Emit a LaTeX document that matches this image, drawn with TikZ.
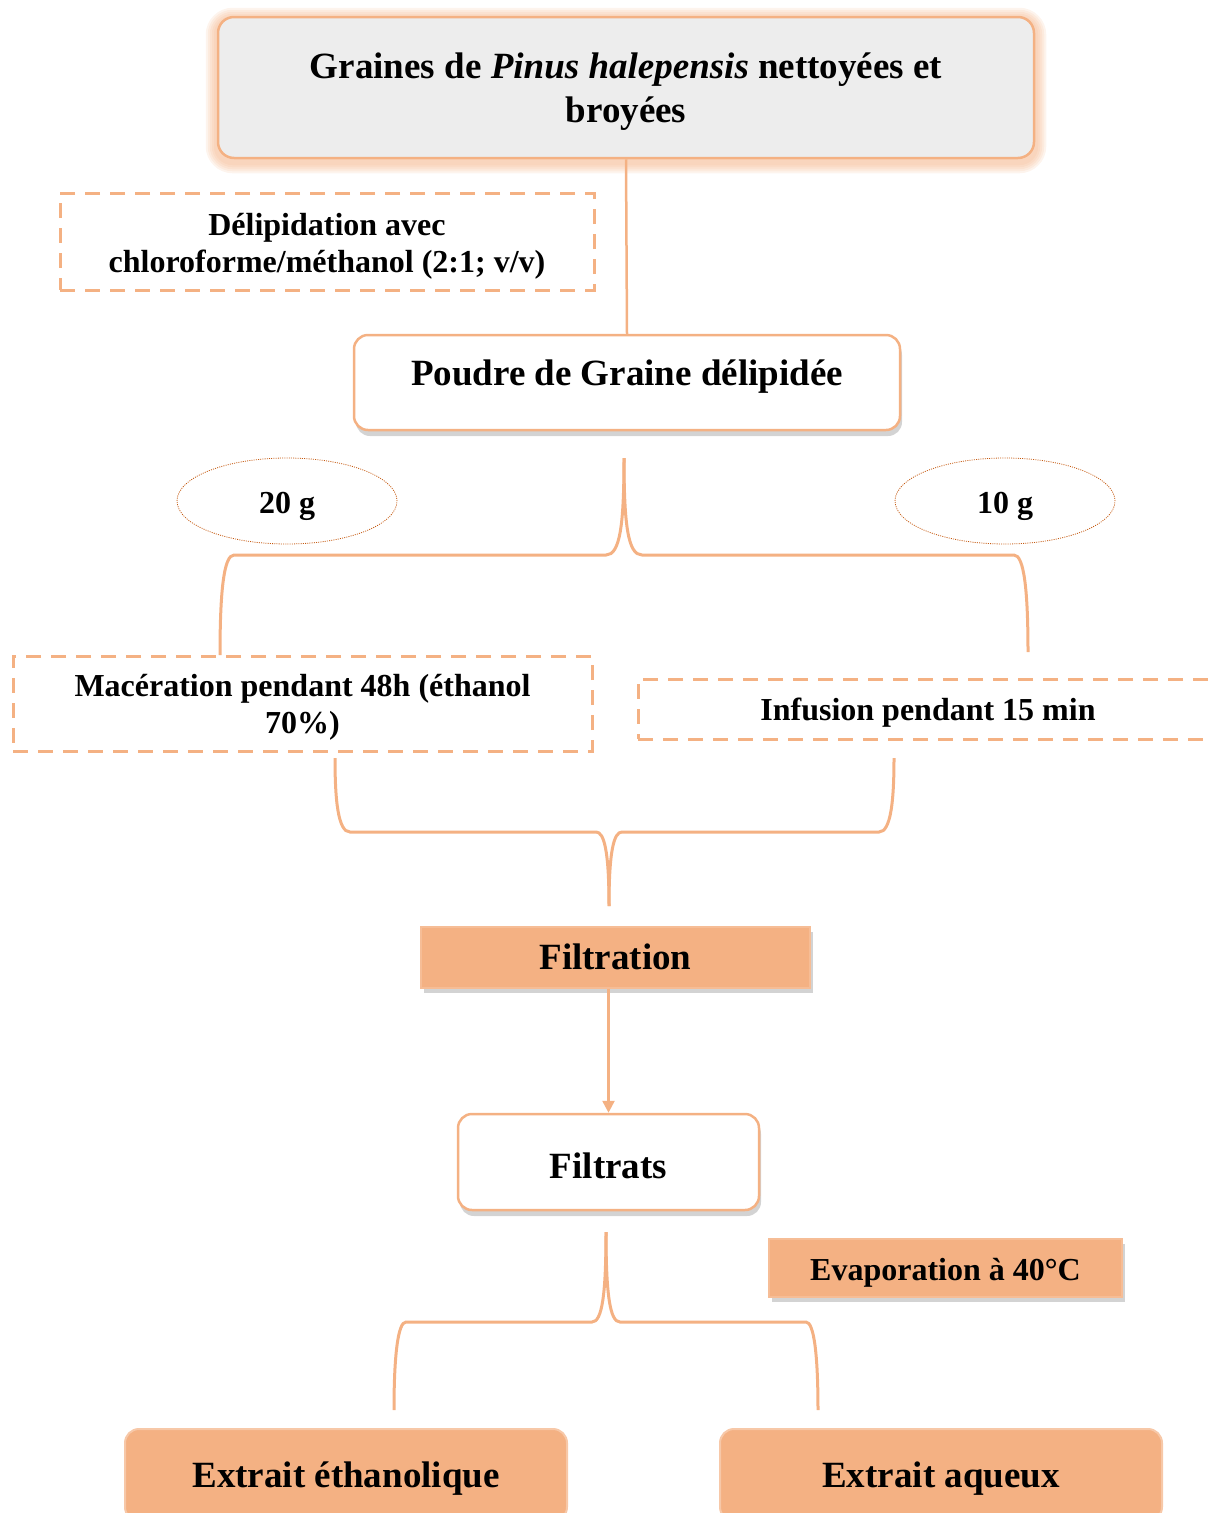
\documentclass[tikz,border=0pt]{standalone}
\usepackage{fontspec}
\setmainfont{Liberation Serif}
\usetikzlibrary{shapes.geometric,shadows,arrows.meta,backgrounds}

\definecolor{peach}{HTML}{F4B183}
\definecolor{rust}{HTML}{C55A11}
\definecolor{boxgray}{HTML}{EDEDED}

\tikzset{
  big/.style={font=\bfseries\fontsize{37}{44}\selectfont},
  small/.style={font=\bfseries\fontsize{32}{37}\selectfont},
  roundbox/.style={draw=peach, line width=2.5pt, rounded corners=14pt, fill=white,
    drop shadow={shadow xshift=2pt, shadow yshift=-6pt, opacity=.35}},
  dashbox/.style={draw=peach, line width=3pt, dash pattern=on 15pt off 10pt},
  filledbox/.style={draw=peach!85, line width=1.5pt, fill=peach,
    drop shadow={shadow xshift=3pt, shadow yshift=-5pt, opacity=.35}},
  extractbox/.style={draw=peach!70, line width=2pt, fill=peach, rounded corners=14pt},
  weight/.style={ellipse, draw=rust, line width=0.8pt, dash pattern=on 1pt off 1.2pt,
    minimum width=220pt, minimum height=86pt, text height=27pt, text depth=3pt},
  brace/.style={draw=peach, line width=3pt},
}

\begin{document}
\begin{tikzpicture}[x=1pt, y=-1pt]
  \useasboundingbox (0,0) rectangle (1212,1513);

  % boxes
  \node[draw=peach, line width=2.5pt, rounded corners=16pt, fill=boxgray, big, align=center,
    minimum width=816pt, minimum height=141pt, text height=77pt, text depth=8pt] (seeds) at (626,87.5)
    {Graines de \textit{Pinus halepensis} nettoyées et\\broyées};
  \begin{scope}[on background layer]
    \foreach \w in {6,10,14,18,22}
      \draw[peach, line width=\w pt, opacity=0.14, rounded corners=16pt]
        ([yshift=-3pt]seeds.south west) rectangle ([yshift=-3pt]seeds.north east);
  \end{scope}

  \node[dashbox, small, align=center, minimum width=534pt, minimum height=97pt,
    text height=69pt, text depth=8pt] (delip) at (327,241.5)
    {Délipidation avec\\chloroforme/méthanol (2:1; v/v)};

  \node[roundbox, big, minimum width=546pt, minimum height=95pt,
    text height=25pt, text depth=20pt] (powder) at (627,382.5) {Poudre de Graine délipidée};

  \node[weight, small] (w20) at (287,501) {20 g};
  \node[weight, small] (w10) at (1005,501) {10 g};

  \node[dashbox, small, align=center, minimum width=579pt, minimum height=95pt,
    text height=67pt, text depth=8pt] (macer) at (302.5,703.5)
    {Macération pendant 48h (éthanol\\70\%)};
  \node[dashbox, small, minimum width=580pt, minimum height=60pt,
    text height=28pt, text depth=6pt] (infus) at (928,709)
    {Infusion pendant 15 min};

  \node[filledbox, big, minimum width=389pt, minimum height=61pt,
    text height=26pt, text depth=3pt] (filtration) at (615.5,957.5) {Filtration};
  \node[roundbox, big, minimum width=301pt, minimum height=96pt,
    text height=33pt, text depth=1pt] (filtrats) at (608.5,1162) {Filtrats};
  \node[filledbox, small, minimum width=353pt, minimum height=58pt,
    text height=28pt, text depth=4pt] (evap) at (945.5,1268) {Evaporation à 40°C};

  \node[extractbox, big, minimum width=442pt, minimum height=92pt,
    text height=30pt, text depth=6pt] (ethanolic) at (346,1475) {Extrait éthanolique};
  \node[extractbox, big, minimum width=442pt, minimum height=92pt,
    text height=30pt, text depth=6pt] (aqueous) at (941,1475) {Extrait aqueux};

  % brace ends
  \coordinate (split1) at (624,458);
  \coordinate (macin) at (220,655);
  \coordinate (infin) at (1028,652);
  \coordinate (macout) at (335,758);
  \coordinate (infout) at (894,758);
  \coordinate (join2) at (609,906);
  \coordinate (split3) at (606,1232);
  \coordinate (ethin) at (394,1410);
  \coordinate (aqin) at (818,1410);

  % connectors
  \draw[peach, line width=2.5pt] (seeds.south) -- (powder.north);

  \draw[brace] (split1) .. controls (624,525) and (620,555) .. (606,555) -- (234,555)
    .. controls (224,555) and (220,590) .. (macin);
  \draw[brace] (split1) .. controls (624,525) and (628,555) .. (642,555) -- (1014,555)
    .. controls (1024,555) and (1028,590) .. (infin);

  \draw[brace] (macout) .. controls (335,800) and (338,832) .. (350,832) -- (596,832)
    .. controls (604,832) and (609,850) .. (join2);
  \draw[brace] (infout) .. controls (894,800) and (891,832) .. (879,832) -- (622,832)
    .. controls (614,832) and (609,850) .. (join2);

  \draw[peach, line width=2.5pt, -{Triangle[length=12pt,width=12pt]}]
    (filtration.south -| filtrats.north) -- (filtrats.north);

  \draw[brace] (split3) .. controls (606,1295) and (602,1322) .. (592,1322) -- (406,1322)
    .. controls (398,1322) and (394,1355) .. (ethin);
  \draw[brace] (split3) .. controls (606,1295) and (610,1322) .. (620,1322) -- (806,1322)
    .. controls (814,1322) and (818,1355) .. (aqin);
\end{tikzpicture}
\end{document}
